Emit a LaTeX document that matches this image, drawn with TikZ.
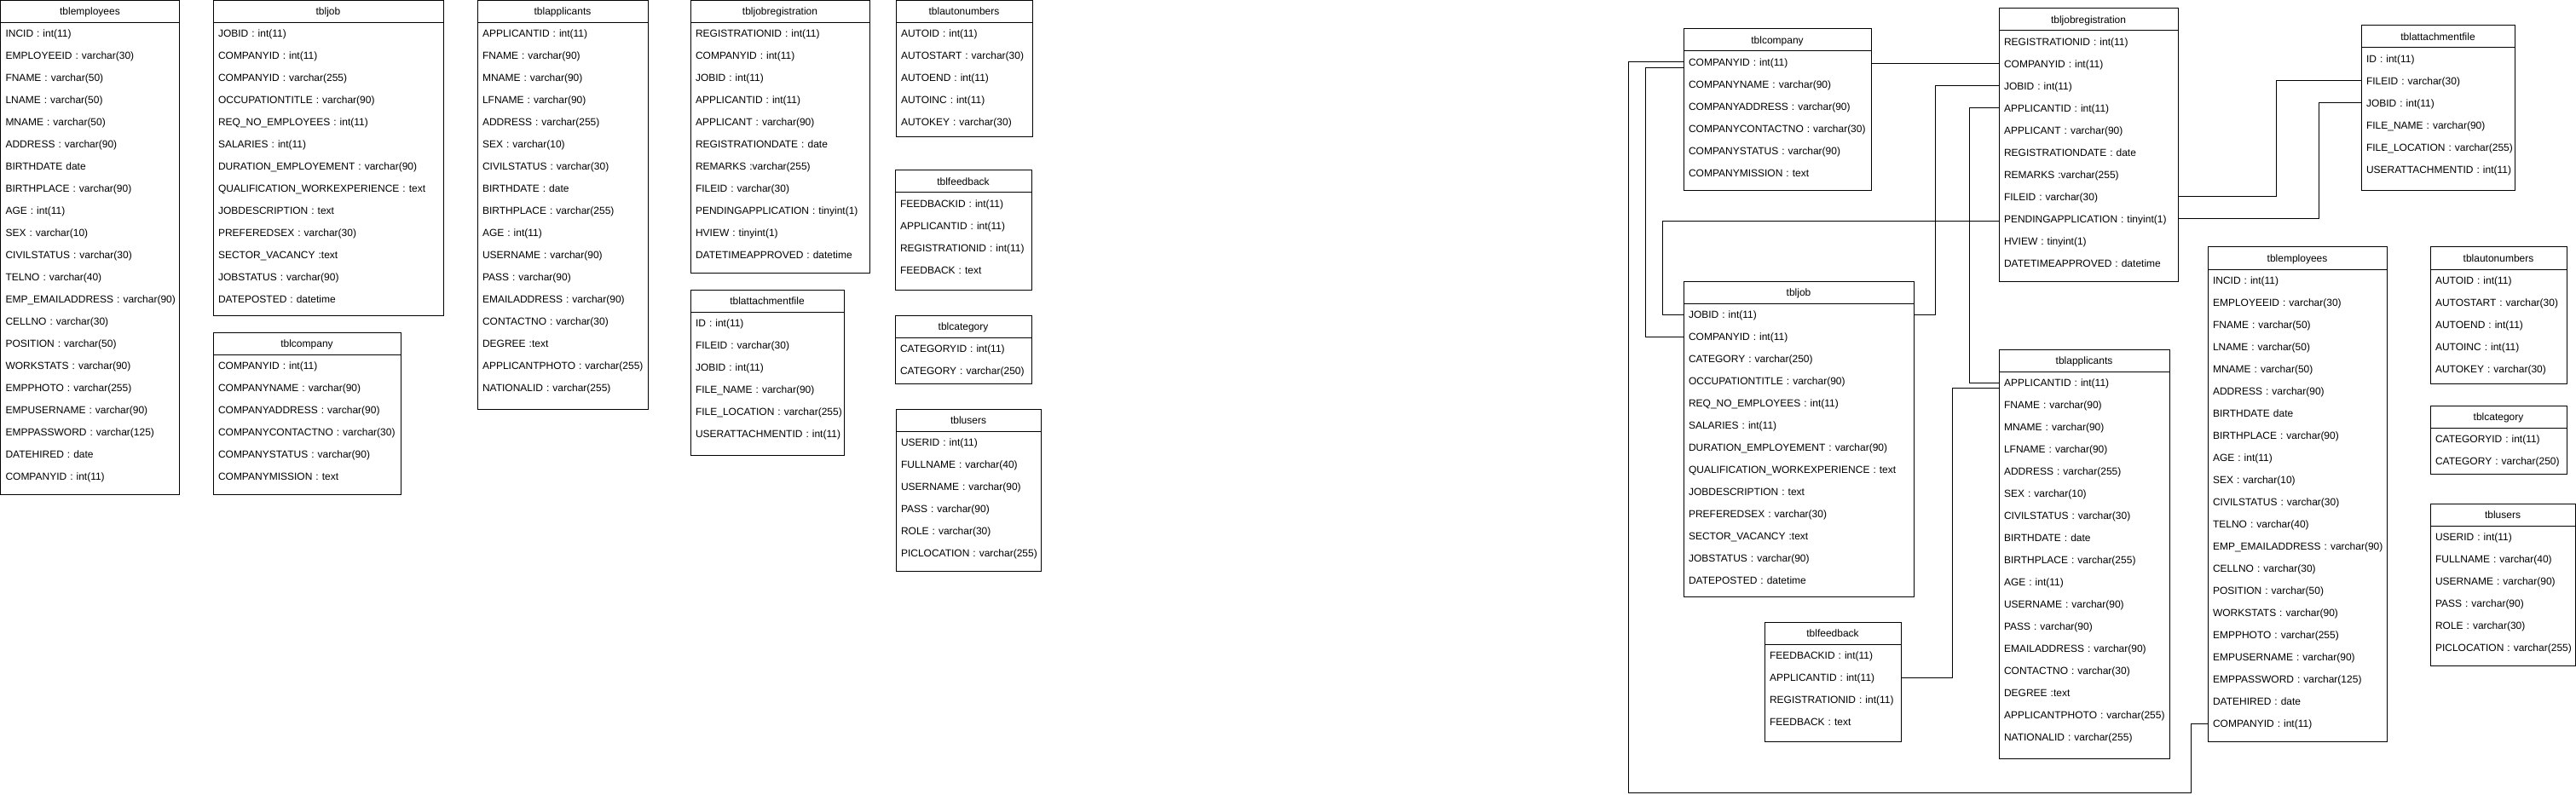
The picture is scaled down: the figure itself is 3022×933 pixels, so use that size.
\documentclass[tikz,border=0pt]{standalone}
\usepackage{fontspec}
\setmainfont{Liberation Sans}
\usepackage{tikz}
\usetikzlibrary{calc}

\begin{document}
\begin{tikzpicture}[x=1pt, y=-1pt, line width=1pt,
    tbl/.style={draw, inner sep=0pt, outer sep=0pt, anchor=north west},
    tblhead/.style={inner sep=0pt, outer sep=0pt, minimum height=26pt, anchor=north,
        align=center, text height=8.6pt, text depth=0pt, font=\fontsize{12pt}{14pt}\selectfont},
    tblrow/.style={inner xsep=6pt, inner ysep=0pt, outer sep=0pt, minimum height=26pt,
        anchor=north west, align=left, text height=8.6pt, text depth=0pt,
        font=\fontsize{12pt}{14pt}\selectfont},
    rel/.style={draw, line width=1pt}]

    % Page size
    \useasboundingbox (0,0) rectangle (3022,933);

    % Table macro: name, x, y, width, height, title, columns
    \def\dbtable#1#2#3#4#5#6#7{%
        \node[tbl, minimum width=#4pt, minimum height=#5pt] (#1) at (#2,#3) {};
        \node[tblhead, text width=#4pt] (#1-h) at (#1.north) {#6};
        \draw (#1-h.south west) -- (#1-h.south east);
        \pgfmathsetmacro\rw{#4-12}
        \foreach \r [count=\i] in #7
            \node[tblrow, text width=\rw pt] (#1-\i) at ({#2},{#3+26*\i}) {\mbox{\r}\hfill};
    }

    % Columns of each table
    \def\empcols{INCID : int(11), EMPLOYEEID : varchar(30), FNAME : varchar(50),
        LNAME : varchar(50), MNAME : varchar(50), ADDRESS : varchar(90), BIRTHDATE date,
        BIRTHPLACE : varchar(90), AGE : int(11), SEX : varchar(10), CIVILSTATUS : varchar(30),
        TELNO : varchar(40), EMP\_EMAILADDRESS : varchar(90), CELLNO : varchar(30),
        POSITION : varchar(50), WORKSTATS : varchar(90), EMPPHOTO : varchar(255),
        EMPUSERNAME : varchar(90), EMPPASSWORD : varchar(125), DATEHIRED : date,
        COMPANYID : int(11)}
    \def\jobcolsA{JOBID : int(11), COMPANYID : int(11), COMPANYID : varchar(255),
        OCCUPATIONTITLE : varchar(90), REQ\_NO\_EMPLOYEES : int(11), SALARIES : int(11),
        DURATION\_EMPLOYEMENT : varchar(90), QUALIFICATION\_WORKEXPERIENCE : text,
        JOBDESCRIPTION : text, PREFEREDSEX : varchar(30), SECTOR\_VACANCY :text,
        JOBSTATUS : varchar(90), DATEPOSTED : datetime}
    \def\jobcolsB{JOBID : int(11), COMPANYID : int(11), CATEGORY : varchar(250),
        OCCUPATIONTITLE : varchar(90), REQ\_NO\_EMPLOYEES : int(11), SALARIES : int(11),
        DURATION\_EMPLOYEMENT : varchar(90), QUALIFICATION\_WORKEXPERIENCE : text,
        JOBDESCRIPTION : text, PREFEREDSEX : varchar(30), SECTOR\_VACANCY :text,
        JOBSTATUS : varchar(90), DATEPOSTED : datetime}
    \def\compcols{COMPANYID : int(11), COMPANYNAME : varchar(90),
        COMPANYADDRESS : varchar(90), COMPANYCONTACTNO : varchar(30),
        COMPANYSTATUS : varchar(90), COMPANYMISSION : text}
    \def\appcols{APPLICANTID : int(11), FNAME : varchar(90), MNAME : varchar(90),
        LFNAME : varchar(90), ADDRESS : varchar(255), SEX : varchar(10),
        CIVILSTATUS : varchar(30), BIRTHDATE : date, BIRTHPLACE : varchar(255),
        AGE : int(11), USERNAME : varchar(90), PASS : varchar(90),
        EMAILADDRESS : varchar(90), CONTACTNO : varchar(30), DEGREE :text,
        APPLICANTPHOTO : varchar(255), NATIONALID : varchar(255)}
    \def\jregcols{REGISTRATIONID : int(11), COMPANYID : int(11), JOBID : int(11),
        APPLICANTID : int(11), APPLICANT : varchar(90), REGISTRATIONDATE : date,
        REMARKS :varchar(255), FILEID : varchar(30), PENDINGAPPLICATION : tinyint(1),
        HVIEW : tinyint(1), DATETIMEAPPROVED : datetime}
    \def\attcols{ID : int(11), FILEID : varchar(30), JOBID : int(11),
        FILE\_NAME : varchar(90), FILE\_LOCATION : varchar(255), USERATTACHMENTID : int(11)}
    \def\autocols{AUTOID : int(11), AUTOSTART : varchar(30), AUTOEND : int(11),
        AUTOINC : int(11), AUTOKEY : varchar(30)}
    \def\fbcols{FEEDBACKID : int(11), APPLICANTID : int(11), REGISTRATIONID : int(11),
        FEEDBACK : text}
    \def\catcols{CATEGORYID : int(11), CATEGORY : varchar(250)}
    \def\usrcols{USERID : int(11), FULLNAME : varchar(40), USERNAME : varchar(90),
        PASS : varchar(90), ROLE : varchar(30), PICLOCATION : varchar(255)}

    % Left half: tables only
    \dbtable{L-emp}{0.5}{0.5}{210}{580}{tblemployees}{\empcols}
    \dbtable{L-job}{250}{0.5}{270}{370}{tbljob}{\jobcolsA}
    \dbtable{L-comp}{250}{390}{220}{190}{tblcompany}{\compcols}
    \dbtable{L-app}{560}{0.5}{200}{480}{tblapplicants}{\appcols}
    \dbtable{L-jreg}{810}{0.5}{210}{320}{tbljobregistration}{\jregcols}
    \dbtable{L-att}{810}{340}{180}{194}{tblattachmentfile}{\attcols}
    \dbtable{L-auto}{1051}{0.5}{160}{160}{tblautonumbers}{\autocols}
    \dbtable{L-fb}{1050}{200}{160}{140}{tblfeedback}{\fbcols}
    \dbtable{L-cat}{1050}{370}{160}{80}{tblcategory}{\catcols}
    \dbtable{L-usr}{1051}{480}{170}{190}{tblusers}{\usrcols}

    % Right half: tables with relations
    \dbtable{R-comp}{1975}{34}{220}{190}{tblcompany}{\compcols}
    \dbtable{R-jreg}{2345}{10}{210}{320}{tbljobregistration}{\jregcols}
    \dbtable{R-att}{2770}{30}{180}{194}{tblattachmentfile}{\attcols}
    \dbtable{R-job}{1975}{330}{270}{370}{tbljob}{\jobcolsB}
    \dbtable{R-app}{2345}{410}{200}{480}{tblapplicants}{\appcols}
    \dbtable{R-emp}{2590}{290}{210}{580}{tblemployees}{\empcols}
    \dbtable{R-auto}{2851}{290}{160}{160}{tblautonumbers}{\autocols}
    \dbtable{R-cat}{2851}{476}{160}{80}{tblcategory}{\catcols}
    \dbtable{R-usr}{2851}{591}{170}{190}{tblusers}{\usrcols}
    \dbtable{R-fb}{2070}{730}{160}{140}{tblfeedback}{\fbcols}

    % Bend points of the long loop under everything
    \coordinate (loopR) at (2570,930);
    \coordinate (loopL) at (1910,930);

    % Relations
    \draw[rel] (R-emp-21.west) -| (loopR) -- (loopL) |- (R-comp-1.west);
    \draw[rel] ([yshift=-7pt]R-comp-1.west) -- ++(-45,0) |- (R-job-2.west);
    \draw[rel] (R-comp-1.east |- R-jreg-2.west) -- (R-jreg-2.west);
    \draw[rel] (R-job-1.west) -- ++(-25,0) |- ([yshift=-3pt]R-jreg-9.west);
    \draw[rel] (R-job-1.east) -- ++(25,0) |- (R-jreg-3.west);
    \draw[rel] (R-jreg-4.west) -- ++(-35,0) |- (R-app-1.west);
    \draw[rel] ([yshift=-6pt]R-app-1.west) -- ++(-55,0) |- (R-fb-2.east);
    \draw[rel] (R-jreg-8.east) -- ++(115,0) |- (R-att-2.west);
    \draw[rel] (R-jreg-9.east) -- ++(165,0) |- (R-att-3.west);
\end{tikzpicture}
\end{document}
